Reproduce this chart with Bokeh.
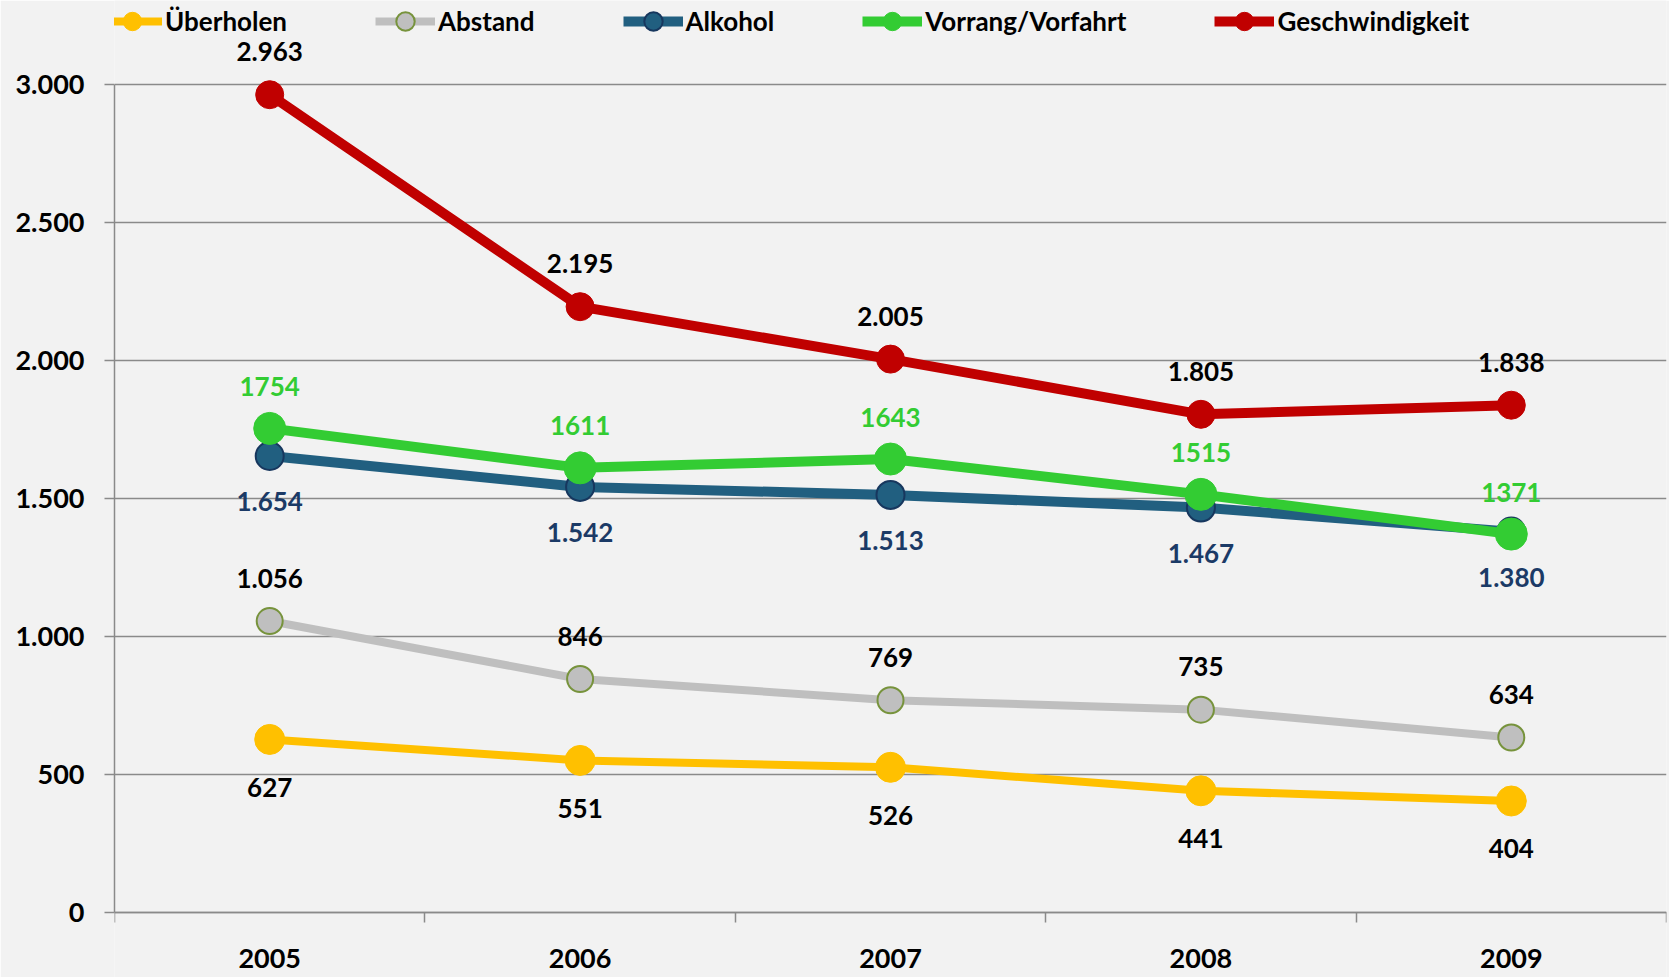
from bokeh.plotting import figure
from bokeh.models import (ColumnDataSource, Range1d, FixedTicker, LabelSet,
                          Legend, LegendItem)
from bokeh.core.properties import value
from bokeh.embed import file_html
from bokeh.resources import INLINE

# ---------------- data ----------------
years = ["2005", "2006", "2007", "2008", "2009"]
ueberholen = [627, 551, 526, 441, 404]
abstand = [1056, 846, 769, 735, 634]
alkohol = [1654, 1542, 1513, 1467, 1380]
vorrang = [1754, 1611, 1643, 1515, 1371]
geschwindigkeit = [2963, 2195, 2005, 1805, 1838]
y_ticks = [0, 500, 1000, 1500, 2000, 2500, 3000]
series_names = ["Überholen", "Abstand", "Alkohol", "Vorrang/Vorfahrt", "Geschwindigkeit"]

FONT = "Lato"
BG = "#f2f2f2"
GRID = "#8a8a8a"


def de_fmt(v):
    return f"{v:,}".replace(",", ".")


xs = [i + 0.5 for i in range(len(years))]

W, H = 1669, 977
LEFT, RIGHT = 114, 3
Y0_PX, Y3000_PX = 912, 84          # pixel rows of 0 and 3000
px_per_unit = (Y0_PX - Y3000_PX) / 3000.0
y_lo = -(H - Y0_PX) / px_per_unit
y_hi = 3000 + Y3000_PX / px_per_unit

p = figure(width=W, height=H, output_backend="svg", toolbar_location=None,
           x_range=Range1d(0, len(years)), y_range=Range1d(y_lo, y_hi),
           min_border_left=LEFT, min_border_right=RIGHT, min_border_top=0,
           min_border_bottom=0)
p.background_fill_color = BG
p.border_fill_color = BG
p.outline_line_color = None

# y axis
p.yaxis.ticker = FixedTicker(ticks=y_ticks)
p.yaxis.major_label_overrides = {t: de_fmt(t) for t in y_ticks}
p.yaxis.bounds = (0, 3000)
p.yaxis.axis_line_color = GRID
p.yaxis.axis_line_width = 1.5
p.yaxis.major_tick_line_color = GRID
p.yaxis.major_tick_line_width = 1.5
p.yaxis.major_tick_out = 10
p.yaxis.major_tick_in = 0
p.yaxis.minor_tick_line_color = None
p.yaxis.major_label_standoff = 20
p.yaxis.major_label_text_font = FONT
p.yaxis.major_label_text_font_style = "bold"
p.yaxis.major_label_text_font_size = "27px"
p.yaxis.major_label_text_color = "#000000"

# x axis (drawn at y = 0 inside the frame)
p.xaxis.fixed_location = 0
p.xaxis.ticker = FixedTicker(ticks=xs, minor_ticks=list(range(len(years) + 1)))
p.xaxis.major_label_overrides = {x: y for x, y in zip(xs, years)}
p.xaxis.axis_line_color = GRID
p.xaxis.axis_line_width = 1.5
p.xaxis.major_tick_line_color = None
p.xaxis.minor_tick_line_color = GRID
p.xaxis.minor_tick_line_width = 1.5
p.xaxis.minor_tick_out = 10
p.xaxis.minor_tick_in = 0
p.xaxis.major_tick_out = 10
p.xaxis.major_label_standoff = 26
p.xaxis.major_label_text_font = FONT
p.xaxis.major_label_text_font_style = "bold"
p.xaxis.major_label_text_font_size = "27px"
p.xaxis.major_label_text_color = "#000000"

p.xgrid.grid_line_color = None
p.ygrid.ticker = FixedTicker(ticks=y_ticks)
p.ygrid.grid_line_color = GRID
p.ygrid.grid_line_width = 1.5

specs = [
    # values, line color, line width, fill, outline, outline width, size, label color, label offset, formatter
    (ueberholen, "#ffc000", 8, "#ffc000", "#ffc000", 1, 30, "#000000", -48, de_fmt),
    (abstand, "#bfbfbf", 8, "#bfbfbf", "#77933c", 2, 26, "#000000", 43, de_fmt),
    (alkohol, "#215f80", 10, "#215f80", "#17375e", 2, 28, "#1b3a66", -46, de_fmt),
    (vorrang, "#33cc33", 10, "#33cc33", "#33cc33", 1, 32, "#33cc33", 42, str),
    (geschwindigkeit, "#c00000", 10, "#c00000", "#c00000", 1, 28, "#000000", 43, de_fmt),
]

items = []
label_sets = []
for name, (vals, lc, lw, fc, oc, ow, sz, tc, off, fmt) in zip(series_names, specs):
    src = ColumnDataSource(dict(x=xs, y=vals, label=[fmt(v) for v in vals]))
    lr = p.line("x", "y", source=src, line_color=lc, line_width=lw)
    sr = p.scatter("x", "y", source=src, size=sz, fill_color=fc, line_color=oc,
                   line_width=ow)
    items.append(LegendItem(label=name, renderers=[lr, sr]))
    label_sets.append(LabelSet(x="x", y="y", text="label", source=src,
                               y_offset=off, text_align="center",
                               text_baseline="middle", text_font=value(FONT),
                               text_font_style="bold", text_font_size="26px",
                               text_color=tc))

for ls in label_sets:
    p.add_layout(ls)

legend = Legend(items=items, orientation="horizontal",
                location=(102 - LEFT, H - 44),
                glyph_width=60, glyph_height=46, label_standoff=3, spacing=88,
                padding=0, margin=0, border_line_color=None,
                background_fill_alpha=0, label_text_font=FONT,
                label_text_font_style="bold", label_text_font_size="26px",
                label_text_color="#000000")
p.add_layout(legend, "center")

open("out.html", "w").write(file_html(p, INLINE))
